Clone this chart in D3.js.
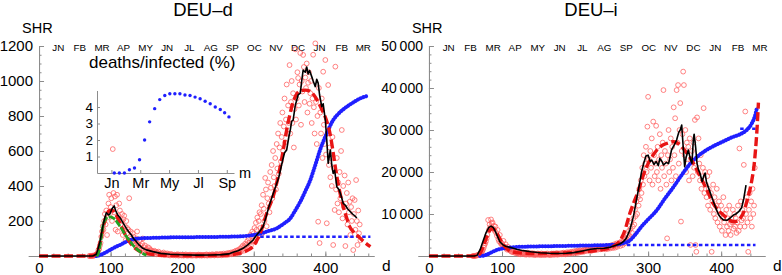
<!DOCTYPE html>
<html>
<head>
<meta charset="utf-8">
<script src="https://cdn.jsdelivr.net/npm/d3@7/dist/d3.min.js"></script>
<style>
  body { margin: 0; background: #fff; }
  svg { font-family: "Liberation Sans", Arial, sans-serif; }
</style>
</head>
<body>
<svg id="chart" width="782" height="275"></svg>
<script>
// month labels along the top (day of the run where each label sits)
const monthNames = ["JN","FB","MR","AP","MY","JN","JL","AG","SP","OC","NV","DC","JN","FB","MR"];
const monthDays = [27,57,88,118,149,179,210,240,270,301,331,362,392,423,453];

// ---- DEU-d : daily deaths (SHR), first entry is day 70
const deathsStart = 70;
const deathsDaily = [
  0,0,0,1,0,2,1,3,4,6,
  8,12,20,35,40,60,75,110,140,170,
  150,200,240,180,260,120,220,300,350,240,
  280,330,200,611,360,250,340,150,290,350,
  140,230,300,260,180,200,240,120,210,230,
  170,90,200,160,130,150,330,110,140,100,
  80,130,110,70,90,60,100,140,70,60,
  50,90,60,40,70,100,30,50,60,35,
  40,25,50,30,45,20,35,30,20,25,
  15,30,20,25,10,20,15,25,10,15,
  12,8,15,10,20,5,12,8,10,15,
  5,10,8,3,12,6,9,5,4,8,
  6,3,8,5,10,2,6,4,8,3,
  5,7,2,6,4,9,3,5,2,6,
  4,8,3,5,2,7,4,6,3,5,
  2,6,4,8,3,5,7,2,6,4,
  5,3,7,4,9,2,6,5,8,3,
  6,4,10,5,7,3,8,6,12,4,
  8,5,10,6,12,4,9,7,14,6,
  10,8,15,6,12,18,9,14,20,10,
  15,22,12,25,18,30,14,28,35,20,
  30,42,25,50,38,60,30,55,70,40,
  65,85,50,100,75,120,60,110,140,90,
  130,160,80,190,150,220,110,200,250,160,
  240,290,130,350,270,200,446,380,170,330,
  420,300,250,480,390,520,330,600,450,400,
  560,380,640,500,700,470,620,760,540,680,
  820,600,740,900,650,780,980,700,860,760,
  1091,700,880,1000,760,930,620,840,1181,780,
  900,1050,1017,860,980,1160,750,1000,940,1149,
  1080,880,1020,960,1100,820,990,1050,870,930,
  1000,760,900,1150,850,700,1215,880,640,800,
  196,960,74,820,700,900,560,1053,750,640,
  1120,580,187,700,977,520,620,450,560,400,
  680,63,500,263,1082,380,560,300,420,250,
  480,330,600,720,215,400,280,460,57,300,
  360,180,420,250,310,120,280,200,330,34,
  240,320,150,434,200,63,260,130,180,90
];
const deathsAvg = [[0,0],[75,0],[80,10],[82,34],[85,80],[89,167],[92,220],[94,247],[97,235],[99,240],[102,270],[105,286],[107,260],[110,234],[113,220],[115,206],[118,185],[122,158],[125,140],[129,120],[132,100],[136,82],[140,62],[145,44],[150,35],[159,25],[170,15],[183,10],[200,7],[220,5],[240,6],[255,8],[265,12],[271,22],[278,30],[285,44],[292,65],[299,91],[305,125],[310,150],[313,167],[317,220],[321,280],[325,330],[330,390],[335,450],[340,540],[343,590],[346,606],[349,680],[351,720],[353,770],[355,777],[358,860],[362,920],[365,931],[367,1000],[369,1062],[372,1050],[374,1080],[376,1040],[378,1060],[381,1025],[383,1000],[386,968],[388,1010],[390,988],[392,920],[395,853],[397,870],[400,777],[402,663],[404,530],[407,606],[409,520],[411,472],[413,490],[416,396],[419,380],[421,358],[423,330],[425,301],[428,290],[431,270],[435,253],[438,240],[441,230],[444,217]];
const deathsFit = [[0,0],[70,0],[78,5],[82,30],[86,90],[90,170],[94,230],[98,258],[102,262],[106,245],[110,215],[115,170],[120,125],[125,90],[130,62],[135,42],[140,28],[150,14],[160,8],[180,4],[220,3],[260,6],[280,15],[290,30],[300,60],[305,95],[310,140],[318,244],[327,339],[336,491],[341,600],[346,720],[350,800],[355,880],[360,925],[366,945],[372,948],[378,942],[384,920],[390,880],[396,830],[402,770],[407,690],[411,590],[415,480],[420,370],[425,282],[430,215],[434,168],[440,135],[448,105],[455,78],[463,53]];
const deathsWave1Fit = [[80,0],[82,5],[86,80],[89,167],[93,210],[96,221],[100,224],[103,218],[106,210],[110,188],[115,158],[120,124],[124,101],[128,80],[131,63],[136,42],[141,25],[146,12],[150,5]];
const deathsCum = [[80,0],[85,5],[92,18],[99,34],[106,50],[113,63],[120,78],[127,91],[134,97],[141,101],[160,104],[178,106],[220,108],[271,111],[290,115],[300,120],[309,128],[320,142],[332,158],[342,185],[351,215],[358,260],[365,310],[372,370],[379,434],[386,520],[393,610],[400,682],[411,777],[420,820],[430,853],[440,880],[449,901],[458,914]];
const deathsCumWave1 = [[309,110],[463,110]];

// inset: deaths/infected (%) by month
const ratioMonth = [1.2,1.55,1.9,2.25,2.6,2.95,3.3,3.65,4.0,4.35,4.7,5.05,5.4,5.75,6.1,6.45,6.8,7.15,7.5,7.85,8.2,8.55,8.85,9.15];
const ratioPct = [0,0,0,0.2,0.3,0.8,2.0,3.1,3.9,4.45,4.7,4.8,4.8,4.8,4.73,4.7,4.6,4.5,4.35,4.2,4.0,3.85,3.65,3.4];
const insetXTicks = [1,3,5,7,9];
const insetXLabels = ["Jn","Mr","My","Jl","Sp"];
const insetYTicks = [1,2,3,4];

// ---- DEU-i : daily infected (SHR), first entry is day 60
const infectedStart = 60;
const infectedDaily = [
  0,0,20,50,80,100,150,200,300,400,
  500,700,900,1200,1500,2000,2600,3000,3500,4200,
  5000,8570,6200,7500,6800,8700,7800,8000,6500,7200,
  6000,7000,5500,4800,6200,4000,3500,5000,3200,2800,
  3000,2500,3600,2200,2000,2800,1800,1500,2200,1600,
  1400,1800,1200,1000,1500,900,1300,800,1100,700,
  900,600,1000,500,800,400,700,600,500,800,
  600,400,700,300,500,800,400,600,300,500,
  400,700,300,500,600,200,400,500,300,600,
  300,500,400,200,600,300,400,500,200,400,
  500,300,600,400,300,500,200,400,600,300,
  400,600,300,500,400,700,300,500,600,400,
  500,700,400,600,800,500,700,400,600,900,
  600,800,500,900,700,1000,600,800,1100,700,
  900,1200,700,1000,1300,800,1100,1400,900,1200,
  1300,1000,1500,1100,1400,1600,1200,1500,1800,1300,
  1400,1700,1200,1600,1900,1400,1800,2100,1500,1700,
  1900,1500,2200,1700,2000,1600,1800,2300,1700,2000,
  1800,2100,1600,1900,2400,1700,2000,2200,1800,2500,
  2100,2600,1900,2300,2800,2000,2500,3000,2200,2700,
  2800,3200,2400,3000,3600,2600,3400,4000,3000,3800,
  4200,3500,5000,4400,6000,4800,6500,8000,5500,7000,
  9000,7500,11000,9500,13000,10000,14000,12000,16000,13500,
  18000,15000,21000,17000,24000,19000,22000,26000,20000,30800,
  37900,23000,18000,25000,21000,28000,17000,32000,24000,19000,
  22000,31000,20000,26000,18000,23000,29000,16000,24000,21000,
  27000,39500,19000,25000,22000,17000,4200,24000,30000,20000,
  23000,28000,18000,26000,21000,35400,24000,32800,19000,39500,
  27000,40700,22000,30000,36400,8200,25000,29000,43900,40700,
  24000,30000,20000,27000,22000,26000,18000,28000,2620,23000,
  25000,19000,27000,21000,32400,2620,1000,33000,20000,28000,
  22000,18000,24000,16000,19000,21000,35200,15000,20000,17000,
  14000,19000,12000,16000,20000,11000,15000,1000,13000,17000,
  10000,14000,9000,12000,16000,8000,11000,13000,7000,10000,
  12000,6000,9000,14000,8000,10000,5000,11000,7000,9000,
  6000,12000,7500,5000,9000,8000,11000,6500,10000,7000,
  9000,5500,8000,12000,6000,25600,7000,13000,8500,11000,
  9000,21700,7000,34400,10000,14000,8000,1000,11000,15000,
  9000,13000,7000,16000,10000,12000,21000
];
const infectedAvg = [[0,0],[62,0],[66,200],[70,1500],[74,3500],[78,5500],[82,6800],[85,7100],[88,6800],[91,5800],[94,4600],[97,3400],[101,2700],[105,2300],[111,2060],[120,1600],[129,1270],[140,1000],[152,790],[165,650],[175,600],[188,650],[198,800],[210,1200],[221,1590],[230,1800],[240,1830],[248,2100],[257,2620],[262,2900],[266,3400],[270,4200],[275,6190],[280,9500],[284,13300],[288,17000],[291,20000],[294,22070],[297,23800],[300,24000],[303,22500],[305,22860],[308,21800],[311,22500],[314,21500],[316,23250],[319,22500],[321,21660],[325,22300],[328,22000],[330,23500],[332,25240],[336,26500],[339,27600],[342,29500],[344,30000],[346,31190],[348,26000],[350,21260],[352,23500],[355,25240],[358,23000],[360,22070],[362,28000],[363,29000],[365,26000],[367,22000],[369,20500],[371,19700],[374,17700],[376,19000],[378,19760],[380,17500],[383,16100],[387,14100],[392,11740],[396,10000],[399,9200],[403,8600],[408,8500],[412,9000],[417,9760],[420,10000],[424,10550],[428,11500],[431,13700],[434,16900]];
const infectedFit = [[0,0],[65,0],[70,600],[75,2500],[80,5000],[84,6300],[87,6500],[90,6200],[95,4800],[100,3200],[105,2000],[110,1300],[120,800],[140,600],[180,700],[220,1100],[245,1800],[255,2600],[262,3800],[268,6000],[275,10160],[281,13000],[287,15700],[292,18500],[298,21260],[305,23500],[312,25240],[319,26300],[326,26830],[335,27200],[342,26700],[348,25640],[355,24000],[362,22070],[369,19700],[376,17300],[383,14800],[389,12540],[396,10900],[403,9760],[410,8700],[417,8170],[422,8300],[426,8970],[431,10500],[435,12930],[439,15500],[442,18100],[445,21500],[447,25240],[449,30000],[451,36500]];
const infectedCum = [[70,0],[75,100],[80,400],[86,900],[92,1400],[100,1750],[110,2000],[120,2150],[140,2250],[170,2350],[200,2450],[230,2550],[255,2700],[265,3000],[275,3700],[282,5000],[289,6590],[295,7800],[300,8700],[312,10950],[323,13700],[335,16500],[346,19300],[358,22070],[369,23900],[380,25240],[392,26400],[403,27300],[414,28200],[426,29000],[435,30000],[442,31600],[446,33200],[449,35300]];
const infectedCumWave1 = [[271,2620],[447,2620]];
const infectedCumWave2 = [[426,30300],[450,30300]];

const svg = d3.select("#chart");
const axisGray = "#8c8c8c";

function drawPanel(opt) {
  const g = svg.append("g");
  const x = opt.x, y = opt.y;

  // y axis: ticks point into the plot
  g.append("g").attr("transform", `translate(${x(0)},0)`)
    .call(d3.axisLeft(y).tickValues(opt.yMinor).tickSizeInner(-2.5).tickSizeOuter(0).tickFormat(""))
    .call(a => a.selectAll("line,path").attr("stroke", axisGray));
  g.append("g").attr("transform", `translate(${x(0)},0)`)
    .call(d3.axisLeft(y).tickValues(opt.yMajor).tickSizeInner(-5).tickSizeOuter(0).tickPadding(6).tickFormat(opt.yFormat))
    .call(a => a.select(".domain").attr("stroke", axisGray))
    .call(a => a.selectAll(".tick line").attr("stroke", axisGray))
    .call(a => a.selectAll("text").attr("font-size", opt.yFont).attr("fill", "#000").attr("font-family", null));

  // x axis
  g.append("g").attr("transform", `translate(0,${y(0)})`)
    .call(d3.axisBottom(x).tickValues(d3.range(20, x.domain()[1], 20)).tickSizeInner(-2.5).tickSizeOuter(0).tickFormat(""))
    .call(a => a.selectAll("line,path").attr("stroke", axisGray));
  g.append("g").attr("transform", `translate(0,${y(0)})`)
    .call(d3.axisBottom(x).tickValues([0,100,200,300,400]).tickSizeInner(-4.5).tickSizeOuter(0).tickPadding(6))
    .call(a => a.select(".domain").attr("stroke", axisGray))
    .call(a => a.selectAll(".tick line").attr("stroke", axisGray))
    .call(a => a.selectAll("text").attr("font-size", 15).attr("fill", "#000").attr("font-family", null));

  // titles
  g.append("text").attr("x", opt.titleX).attr("y", 16).attr("text-anchor", "middle")
    .attr("font-size", 18.5).text(opt.title);
  g.append("text").attr("x", x(0) - 17).attr("y", 33).attr("font-size", 14.5).text("SHR");
  g.append("text").attr("x", x.range()[1] + 8).attr("y", 271).attr("font-size", 15.5).text("d");

  // month labels
  g.selectAll(".month").data(monthNames).join("text")
    .attr("x", (d, i) => x(monthDays[i])).attr("y", 50.5)
    .attr("text-anchor", "middle").attr("font-size", 9.8).text(d => d);

  // daily values
  g.append("g").selectAll("circle").data(opt.daily).join("circle")
    .attr("cx", (d, i) => x(opt.start + i)).attr("cy", d => y(d)).attr("r", 2.4)
    .attr("fill", "none").attr("stroke", "#ff5c5c").attr("stroke-width", 0.9).attr("stroke-opacity", 0.85);

  const line = d3.line().x(d => x(d[0])).y(d => y(d[1])).curve(d3.curveMonotoneX);
  const straight = d3.line().x(d => x(d[0])).y(d => y(d[1]));

  // cumulative (scaled) as beaded blue dots
  g.append("path").attr("d", line(opt.cum)).attr("fill", "none")
    .attr("stroke", "#1f1fff").attr("stroke-width", 4).attr("stroke-linecap", "round")
    .attr("stroke-dasharray", "0.1,2.8");
  opt.cumWaves.forEach(w => {
    g.append("path").attr("d", straight(w)).attr("fill", "none")
      .attr("stroke", "#1f1fff").attr("stroke-width", 2.4).attr("stroke-dasharray", "3.5,2.5");
  });

  // fit
  g.append("path").attr("d", line(opt.fit)).attr("fill", "none")
    .attr("stroke", "#e81515").attr("stroke-width", 3.4).attr("stroke-dasharray", "9,3.5");
  if (opt.wave1Fit) {
    g.append("path").attr("d", line(opt.wave1Fit)).attr("fill", "none")
      .attr("stroke", "#22a022").attr("stroke-width", 2.8).attr("stroke-dasharray", "7,1.5");
  }
  // moving average
  g.append("path").attr("d", straight(opt.avg)).attr("fill", "none")
    .attr("stroke", "#000").attr("stroke-width", 1.6).attr("stroke-linejoin", "round");
  return g;
}

const xL = d3.scaleLinear().domain([-15, 468]).range([28.3, 374]);
const yL = d3.scaleLinear().domain([0, 1200]).range([256, 46]);
drawPanel({
  x: xL, y: yL, title: "DEU\u2013d", titleX: 203,
  yMajor: [200,400,600,800,1000,1200], yMinor: d3.range(50, 1201, 50),
  yFormat: d3.format("d"), yFont: 15,
  start: deathsStart, daily: deathsDaily, avg: deathsAvg, fit: deathsFit,
  wave1Fit: deathsWave1Fit, cum: deathsCum, cumWaves: [deathsCumWave1]
});

const xR = d3.scaleLinear().domain([-15, 460]).range([418, 765]);
const yR = d3.scaleLinear().domain([0, 50000]).range([256, 46]);
drawPanel({
  x: xR, y: yR, title: "DEU\u2013i", titleX: 591,
  yMajor: [10000,20000,30000,40000,50000], yMinor: d3.range(2000, 50001, 2000),
  yFormat: d => d3.format("d")(d / 1000) + "\u2009000", yFont: 14,
  start: infectedStart, daily: infectedDaily, avg: infectedAvg, fit: infectedFit,
  cum: infectedCum, cumWaves: [infectedCumWave1, infectedCumWave2]
});

// ---- inset in the DEU-d panel
const xI = d3.scaleLinear().domain([0, 9.5]).range([97, 234]);
const yI = d3.scaleLinear().domain([0, 5]).range([173, 90.5]);
const inset = svg.append("g");
inset.append("text").attr("x", 89).attr("y", 68).attr("font-size", 17).text("deaths/infected (%)");
inset.append("g").attr("transform", `translate(${xI(0)},0)`)
  .call(d3.axisLeft(yI).tickValues(insetYTicks).tickSizeInner(-3).tickSizeOuter(0).tickPadding(4)
    .tickFormat(d3.format("d")))
  .call(a => a.selectAll("line,path").attr("stroke", axisGray))
  .call(a => a.selectAll("text").attr("font-size", 13.5).attr("fill", "#000").attr("font-family", null));
inset.append("g").attr("transform", `translate(0,${yI(0)})`)
  .call(d3.axisBottom(xI).tickValues(insetXTicks).tickSizeInner(-3).tickSizeOuter(0).tickPadding(5)
    .tickFormat((d, i) => insetXLabels[i]))
  .call(a => a.selectAll("line,path").attr("stroke", axisGray))
  .call(a => a.selectAll("text").attr("font-size", 14.5).attr("fill", "#000").attr("font-family", null));
inset.append("text").attr("x", xI.range()[1] + 5).attr("y", 178).attr("font-size", 14.5).text("m");
inset.selectAll("circle").data(ratioPct).join("circle")
  .attr("cx", (d, i) => xI(ratioMonth[i])).attr("cy", d => yI(d)).attr("r", 1.7)
  .attr("fill", "#1f1fff");
</script>
</body>
</html>
